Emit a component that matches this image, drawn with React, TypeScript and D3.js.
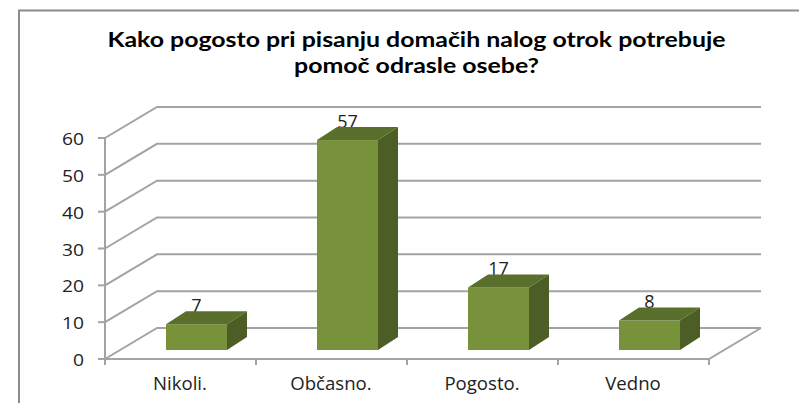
import * as d3 from 'd3';

const categories = ['Nikoli.', 'Občasno.', 'Pogosto.', 'Vedno'];
const values = [7, 57, 17, 8];
const yTicks = [0, 10, 20, 30, 40, 50, 60];
const titleLines = [
  'Kako pogosto pri pisanju domačih nalog otrok potrebuje',
  'pomoč odrasle osebe?',
];

const width = 799;
const height = 403;
const gridColor = '#a3a3a3';
const font = '"Open Sans", "Noto Sans", sans-serif';
const titleFont = 'Lato, "Open Sans", sans-serif';
const titleWidths = [618, 245];

// floor depth of the fake 3d box
const depthX = 52;
const depthY = -31;
// bars stand part way into the floor
const barInsetX = 16;
const barInsetY = -9;
const barDepthX = 20;
const barDepthY = -13;
const barWidth = 61;

const x = d3.scaleBand<string>().domain(categories).range([105, 709]);
const y = d3.scaleLinear().domain([0, 60]).range([359, 138]);

export default function App() {
  const y0 = y(0);
  const left = x.range()[0];
  const right = x.range()[1];

  return (
    <svg width={width} height={height} style={{ position: 'absolute', left: 0, top: 0, background: '#fff' }}>
      {/* outer frame, cropped on the right and bottom */}
      <path d={`M19,${height}V10.5H${width}`} fill="none" stroke="#8c8c8c" strokeWidth={2} />

      {titleLines.map((t, i) => (
        <text
          key={t}
          x={416.5}
          y={47 + i * 26}
          textAnchor="middle"
          fontFamily={titleFont}
          fontWeight={700}
          fontSize={21}
          textLength={titleWidths[i]}
          lengthAdjust="spacingAndGlyphs"
          fill="#000"
        >
          {t}
        </text>
      ))}

      {/* gridlines: wall plus side wall */}
      {yTicks.map(t => (
        <g key={t}>
          <path
            d={`M${left},${y(t)}L${left + depthX},${y(t) + depthY}H${right + depthX}`}
            fill="none"
            stroke={gridColor}
            strokeWidth={2}
          />
          <line x1={left - 7} x2={left} y1={y(t)} y2={y(t)} stroke={gridColor} strokeWidth={2} />
          <text
            x={84}
            y={y(t) + 7}
            textAnchor="end"
            fontFamily={font}
            fontSize={16.5}
            textLength={String(t).length * 11}
            lengthAdjust="spacingAndGlyphs"
            fill="#222"
          >
            {t}
          </text>
        </g>
      ))}

      {/* floor front edge and right edge */}
      <path d={`M${left},${y0}H${right}L${right + depthX},${y0 + depthY}`} fill="none" stroke={gridColor} strokeWidth={2} />
      <line x1={left} x2={left} y1={y(60)} y2={y0 + 6} stroke={gridColor} strokeWidth={2} />
      {categories.map(c => (
        <line
          key={c}
          x1={(x(c) as number) + x.bandwidth()}
          x2={(x(c) as number) + x.bandwidth()}
          y1={y0}
          y2={y0 + 6}
          stroke={gridColor}
          strokeWidth={2}
        />
      ))}

      {categories.map((c, i) => {
        const cx = (x(c) as number) + x.bandwidth() / 2;
        const x0 = cx + barInsetX - barWidth / 2;
        const x1 = x0 + barWidth;
        const base = y0 + barInsetY;
        const top = base - (y0 - y(values[i]));
        return (
          <g key={c}>
            {/* label goes first, the bar top clips its foot like the original */}
            <text x={x0 + barWidth / 2} y={top - 12.5} textAnchor="middle" fontFamily={font} fontSize={18} fill="#222">
              {values[i]}
            </text>
            <rect x={x0} y={top} width={barWidth} height={base - top} fill="#77923b" />
            <path
              d={`M${x0},${top}l${barDepthX},${barDepthY}H${x1 + barDepthX}L${x1},${top}Z`}
              fill="#5a6f2c"
            />
            <path
              d={`M${x1},${top}l${barDepthX},${barDepthY}V${base + barDepthY}L${x1},${base}Z`}
              fill="#4c5e25"
            />
            <text x={cx - 0.5} y={390} textAnchor="middle" fontFamily={font} fontSize={18.6} fill="#222">
              {c}
            </text>
          </g>
        );
      })}
    </svg>
  );
}
